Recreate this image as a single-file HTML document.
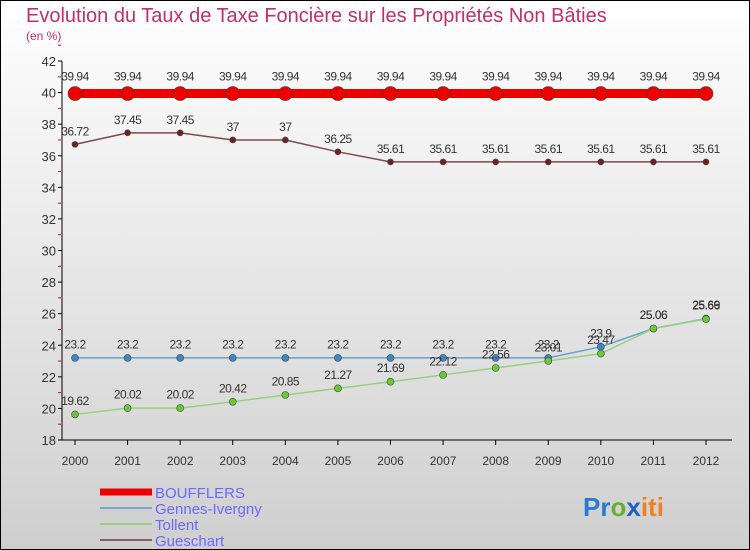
<!DOCTYPE html>
<html><head><meta charset="utf-8"><style>
body{margin:0;}
svg{display:block;font-family:"Liberation Sans",sans-serif;}
</style></head><body>
<svg id="c" width="750" height="550" xmlns="http://www.w3.org/2000/svg">
<defs><linearGradient id="bg" x1="0" y1="0" x2="0" y2="1"><stop offset="0" stop-color="#ffffff"/><stop offset="1" stop-color="#cfcfcf"/></linearGradient></defs>
<rect x="0.5" y="0.5" width="749" height="549" fill="url(#bg)" stroke="#000"/>
<text x="26" y="22" font-size="20" fill="#c0306a">Evolution du Taux de Taxe Foncière sur les Propriétés Non Bâties</text>
<text x="26" y="40" font-size="12" fill="#c0306a">(en %)</text>
<g id="axes"></g><g id="series"></g>
<g>
<line x1="100" y1="492" x2="152" y2="492" stroke="#e00" stroke-width="7"/>
<text x="155" y="498" font-size="15" fill="#6a6aff">BOUFFLERS</text>
<line x1="100" y1="508" x2="152" y2="508" stroke="#7aa8cc" stroke-width="2"/>
<text x="155" y="514" font-size="15" fill="#6a6aff">Gennes-Ivergny</text>
<line x1="100" y1="524" x2="152" y2="524" stroke="#99d080" stroke-width="2"/>
<text x="155" y="530" font-size="15" fill="#6a6aff">Tollent</text>
<line x1="100" y1="540" x2="152" y2="540" stroke="#8a6060" stroke-width="2"/>
<text x="155" y="546" font-size="15" fill="#6a6aff">Gueschart</text>
</g>
<g font-size="26" font-weight="bold">
<text x="583" y="516"><tspan fill="#2a7ad0">Pr</tspan><tspan fill="#6ab030">o</tspan><tspan fill="#2060c0">x</tspan><tspan fill="#f08020">iti</tspan></text>
</g>
</svg>
<script>
const years=[2000,2001,2002,2003,2004,2005,2006,2007,2008,2009,2010,2011,2012];
const yTicks=[18,20,22,24,26,28,30,32,34,36,38,40,42];
const boufflers=[39.94,39.94,39.94,39.94,39.94,39.94,39.94,39.94,39.94,39.94,39.94,39.94,39.94];
const gueschart=[36.72,37.45,37.45,37,37,36.25,35.61,35.61,35.61,35.61,35.61,35.61,35.61];
const gennes=[23.2,23.2,23.2,23.2,23.2,23.2,23.2,23.2,23.2,23.2,23.9,25.06,25.69];
const tollent=[19.62,20.02,20.02,20.42,20.85,21.27,21.69,22.12,22.56,23.01,23.47,25.06,25.66];
const NS="http://www.w3.org/2000/svg";
const X=i=>75+i*(706-75)/(years.length-1);
const Y=v=>440-(v-18)*(440-61)/24;
function el(t,a,p){const e=document.createElementNS(NS,t);for(const k in a)e.setAttribute(k,a[k]);p.appendChild(e);return e;}
const ax=document.getElementById('axes');
const yl=el('line',{x1:62,y1:61,x2:62,y2:440,stroke:'#000'},ax);


const xl=el('line',{x1:62,y1:440,x2:732,y2:440,stroke:'#000'},ax);


yTicks.forEach(v=>{
 el('line',{x1:58,y1:Y(v),x2:62,y2:Y(v),stroke:'#000'},ax);
 el('line',{x1:58,y1:Y(v+1),x2:61,y2:Y(v+1),stroke:'#e00'},ax);
 const t=el('text',{x:56,y:Y(v)+5,'font-size':13,fill:'#333','text-anchor':'end'},ax);t.textContent=v;
 
 
});
years.forEach((yr,i)=>{
 el('line',{x1:X(i),y1:440,x2:X(i),y2:445,stroke:'#000'},ax);
 const t=el('text',{x:X(i),y:465,'font-size':12,fill:'#333','text-anchor':'middle'},ax);t.textContent=yr;
 
 
});
const sg=document.getElementById('series');
function series(name,data,col,w,r,fillc){
 const g=el('g',{},sg);
 
 
 el('polyline',{points:data.map((v,i)=>X(i)+','+Y(v)).join(' '),fill:'none',stroke:col,'stroke-width':w},g);
 data.forEach((v,i)=>{
  const c=el('circle',{cx:X(i),cy:Y(v),r:r,fill:fillc,stroke:'#444','stroke-width':0.6},g);
  
  
  const t=el('text',{x:X(i),y:Y(v)-(r+6),'font-size':12,fill:'#333','text-anchor':'middle','letter-spacing':'-0.5'},g);
  t.textContent=String(v).replace('.', '');
  t.textContent=v;
  
  
 });
}
series('gueschart',gueschart,'#7a4a4a',1.5,3,'#702020');
series('gennes',gennes,'#6aa0d0',1.5,3.5,'#3a88cc');
series('tollent',tollent,'#99d080',1.5,3.5,'#66cc33');
series('boufflers',boufflers,'#e00',9,7,'#e00');
</script>
</body></html>
